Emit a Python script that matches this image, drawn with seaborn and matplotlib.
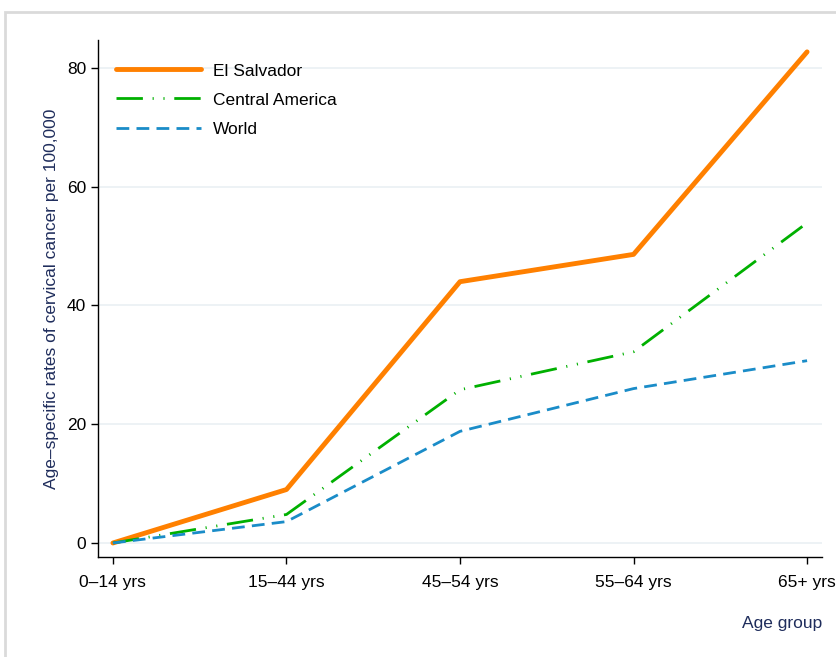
import numpy as np
import pandas as pd
import matplotlib
matplotlib.use("Agg")
import matplotlib.pyplot as plt
import seaborn as sns
from matplotlib.patches import Rectangle

# Data
age_groups = ["0\u201314 yrs", "15\u201344 yrs", "45\u201354 yrs", "55\u201364 yrs", "65+ yrs"]
el_salvador = [0.0, 9.0, 44.0, 48.6, 82.7]
central_america = [0.0, 4.8, 25.8, 32.2, 53.9]
world = [0.0, 3.6, 18.8, 26.0, 30.7]

series_names = ["El Salvador", "Central America", "World"]
colors = {"El Salvador": "#ff8000", "Central America": "#00b000", "World": "#1a8cc8"}
widths = {"El Salvador": 3.5, "Central America": 2.0, "World": 2.0}
dashes = {"El Salvador": (), "Central America": (9.5, 3.5, 0.4, 3.5, 0.4, 3.5), "World": (4.6, 2.6)}

pos = np.arange(len(age_groups))
df = pd.DataFrame({
    "pos": np.tile(pos, 3),
    "rate": el_salvador + central_america + world,
    "series": np.repeat(series_names, len(age_groups)),
})

sns.set_theme(style="white")
plt.rcParams["font.family"] = ["Liberation Sans", "DejaVu Sans"]
FS = 12.5

fig = plt.figure(figsize=(8.37, 6.57), dpi=100)
ax = fig.add_axes([98 / 837, 1 - 557 / 657, 724 / 837, 517 / 657])

# light outer frame
fig.patches.append(Rectangle((5 / 837, -0.05), 1.2, 1 - 12 / 657 + 0.05,
                             transform=fig.transFigure, fill=False,
                             edgecolor="#dadada", linewidth=2.0))

for name in series_names:
    sub = df[df["series"] == name]
    sns.lineplot(data=sub, x="pos", y="rate", ax=ax, color=colors[name],
                 linewidth=widths[name], label=name)
    ln = ax.get_lines()[-1]
    if dashes[name]:
        ln.set_dashes(dashes[name])
    ln.set_solid_capstyle("round")

ax.set_xlim(-0.086, 4.086)
ax.set_ylim(-2.36, 84.7)
ax.set_xticks(pos)
ax.set_xticklabels(age_groups)
ax.set_yticks([0, 20, 40, 60, 80])
ax.yaxis.grid(True, color="#eaf0f3", linewidth=1.2)
ax.set_axisbelow(True)

for s in ["top", "right"]:
    ax.spines[s].set_visible(False)
for s in ["left", "bottom"]:
    ax.spines[s].set_color("black")
    ax.spines[s].set_linewidth(1.0)

ax.tick_params(axis="both", which="major", direction="out", length=5, width=1,
               color="black", labelsize=FS, labelcolor="black", bottom=True, left=True)
ax.tick_params(axis="x", pad=8)

ax.set_ylabel("Age\u2013specific rates of cervical cancer per 100,000",
              fontsize=FS, color="#1f2d5c", labelpad=6)
ax.set_xlabel("Age group", fontsize=FS, color="#1f2d5c")
ax.xaxis.set_label_coords(1.0, -0.115)
ax.xaxis.label.set_horizontalalignment("right")

leg = ax.legend(loc="upper left", bbox_to_anchor=(0.003, 0.985), frameon=False,
                fontsize=FS, handlelength=4.9, handletextpad=0.72, labelspacing=0.8)
for t in leg.get_texts():
    t.set_color("black")

fig.savefig("out.png", dpi=100)
